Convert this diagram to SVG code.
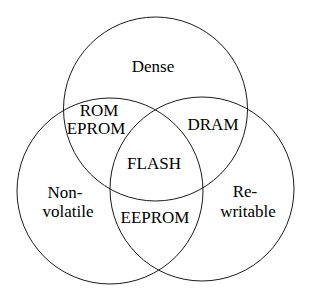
<svg xmlns="http://www.w3.org/2000/svg" width="314" height="293" viewBox="0 0 314 293">
<style>
.c{fill:none;stroke:#1a1a1a;stroke-width:1}
text{font-family:"Liberation Serif","Times New Roman",serif;font-size:17px;fill:#000;text-anchor:middle}
</style>
<rect width="314" height="293" fill="#fff"/>
<g id="circles">
<circle id="dense" class="c" cx="155.5" cy="109" r="92"/>
<circle id="nonvolatile" class="c" cx="110" cy="191" r="93"/>
<circle id="rewritable" class="c" cx="202" cy="189" r="92"/>
</g>
<g id="labels">
<text x="153" y="72">Dense</text>
<text x="99" y="116">ROM</text>
<text x="96" y="134">EPROM</text>
<text x="213" y="130">DRAM</text>
<text x="154" y="169">FLASH</text>
<text x="65" y="198">Non-</text>
<text x="68" y="217">volatile</text>
<text x="155" y="223">EEPROM</text>
<text x="245" y="197">Re-</text>
<text x="248" y="217">writable</text>
</g>
</svg>
